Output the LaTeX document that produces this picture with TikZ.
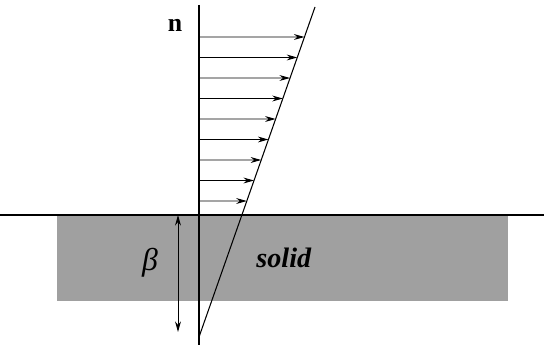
\documentclass[tikz,border=0pt]{standalone}
\usepackage{fontspec}
\setmainfont{Liberation Serif}
\usetikzlibrary{arrows.meta, calc}
\definecolor{solidgray}{RGB}{160, 160, 160}

\begin{document}
\begin{tikzpicture}[x=0.03cm, y=-0.03cm, line width=0.9pt,
    lbl/.style={font=\fontsize{22}{26}\selectfont}]
  \useasboundingbox (0,0) rectangle (544,345);
  % solid block and surface
  \fill[solidgray] (57,215) rectangle (508,301);
  \coordinate (sl) at (0,215);
  \coordinate (sr) at (544,215);
  \draw (sl) -- (sr);
  % normal axis and profile line
  \coordinate (ntop) at (199,5);
  \coordinate (nbot) at (199,345);
  \coordinate (ptop) at (315,7);
  \coordinate (pbot) at (199,337);
  \draw (ntop) -- (nbot);
  \draw (pbot) -- (ptop);
  % velocity arrows
  \foreach \y [count=\i] in {37,57.5,78,98.5,119,139.5,160,180.5,201} {
    \coordinate (a\i) at (199,\y);
    \coordinate (b\i) at ($(pbot)!{(337-\y)/330}!(ptop)$);
    \draw[-{Stealth[length=9pt, width=5pt]}, line width=0.8pt] (a\i) -- (b\i);
  }
  % depth
  \coordinate (dtop) at (178,215);
  \coordinate (dbot) at (178,332);
  \draw[{Stealth[length=9pt, width=5pt]}-{Stealth[length=9pt, width=5pt]}, line width=0.8pt] (dtop) -- (dbot);
  \node[lbl] (n) at (175,25) {\textbf{n}};
  \node[font=\fontsize{27}{30}\selectfont] (beta) at (150,263) {\textit{β}};
  \node[font=\fontsize{24}{28}\selectfont] (solid) at (284,258) {\textbf{\textit{solid}}};
\end{tikzpicture}
\end{document}
